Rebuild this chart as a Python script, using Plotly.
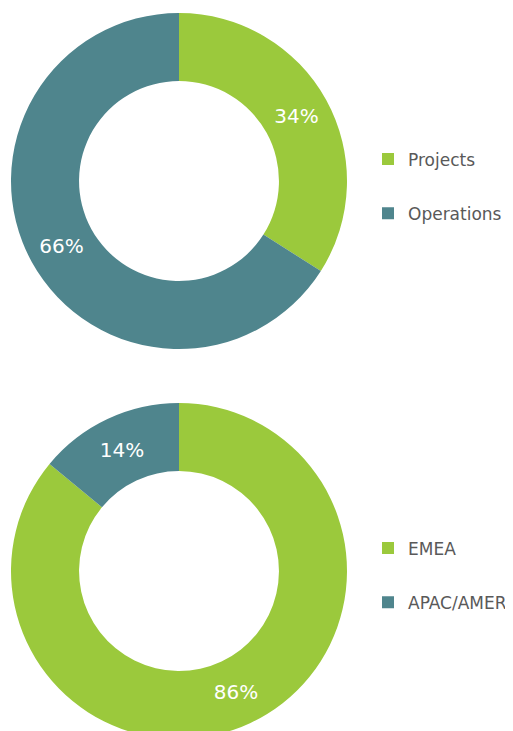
import plotly.graph_objects as go

# ---- data ----
split1_labels = ["Projects", "Operations"]
split1_values = [34, 66]
split2_labels = ["EMEA", "APAC/AMER"]
split2_values = [86, 14]
slice_colors = ["#9BC93C", "#4F858D"]

# the page puts the figure 8px in from the window's top-left corner
OFF = 8
W, H = 513, 731
FONT = "'DejaVu Sans', sans-serif"
TEXT_GREY = "#595959"


def dom(px0, px1, py0, py1):
    """domain from window pixel box"""
    px0, px1, py0, py1 = px0 - OFF, px1 - OFF, py0 - OFF, py1 - OFF
    return dict(x=[max(0, px0 / W), min(1, px1 / W)],
                y=[max(0, 1 - py1 / H), min(1, 1 - py0 / H)])


fig = go.Figure()

pie_common = dict(
    sort=False,
    direction="clockwise",
    rotation=0,
    hole=0.595,
    marker=dict(colors=slice_colors, line=dict(width=0)),
    texttemplate="%{percent:.0%}",
    textposition="inside",
    insidetextorientation="horizontal",
    textfont=dict(color="white", size=20, family=FONT),
    showlegend=False,
    hoverinfo="label+percent",
)

fig.add_trace(go.Pie(labels=split1_labels, values=split1_values,
                     domain=dom(11, 347, 13, 349), **pie_common))
fig.add_trace(go.Pie(labels=split2_labels, values=split2_values,
                     domain=dom(11, 347, 403, 739), **pie_common))

# legend entries (square swatches)
for lab, col in zip(split1_labels, slice_colors):
    fig.add_trace(go.Scatter(x=[None], y=[None], mode="markers", name=lab,
                             legendgroup=lab, legend="legend",
                             marker=dict(symbol="square", size=12, color=col)))
for lab, col in zip(split2_labels, slice_colors):
    fig.add_trace(go.Scatter(x=[None], y=[None], mode="markers", name=lab,
                             legendgroup=lab, legend="legend2",
                             marker=dict(symbol="square", size=12, color=col)))

legend_common = dict(
    xanchor="left",
    yanchor="middle",
    tracegroupgap=29,
    bgcolor="rgba(0,0,0,0)",
    borderwidth=0,
    font=dict(family=FONT, size=17, color=TEXT_GREY),
)

LEG_LEFT = 360  # figure px
fig.update_layout(
    width=W,
    height=H,
    margin=dict(l=0, r=0, t=0, b=0),
    paper_bgcolor="white",
    plot_bgcolor="white",
    xaxis=dict(visible=False),
    yaxis=dict(visible=False),
    legend=dict(x=LEG_LEFT / W, y=1 - (186.5 - OFF) / H, **legend_common),
    legend2=dict(x=LEG_LEFT / W, y=1 - (575.5 - OFF) / H, **legend_common),
)

fig.write_html("out.html")
